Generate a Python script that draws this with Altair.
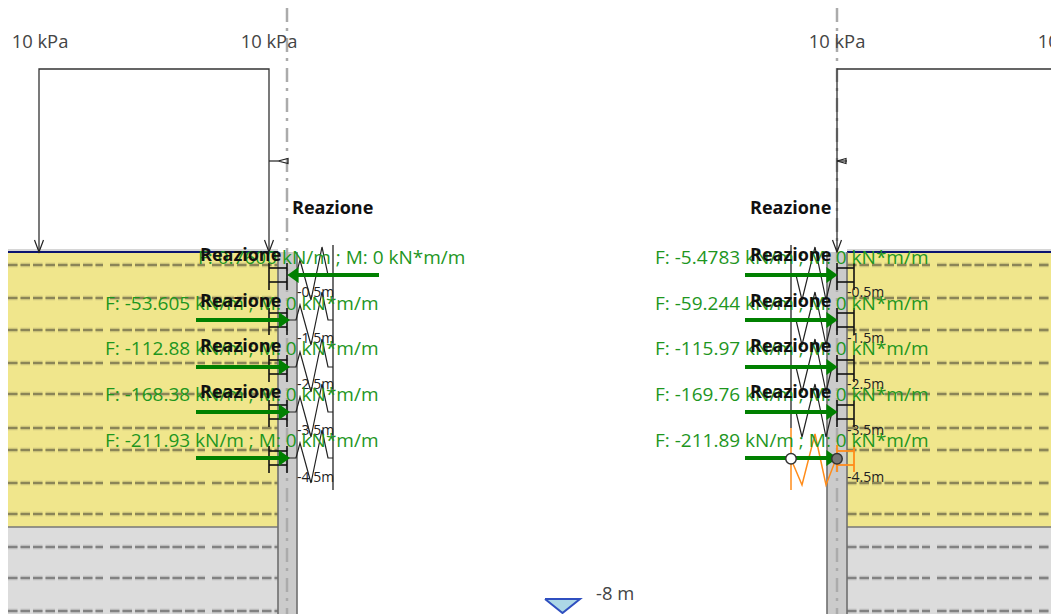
import altair as alt
import pandas as pd

# ---- picture geometry, in reference pixels ----
GROUND_Y = 252
CLAY_Y = 527
BOTTOM_Y = 614
LEFT_EDGE = 8
RIGHT_EDGE = 1051
WALL_L = [278, 297]
WALL_R = [827, 847]
AXIS_L = 287
AXIS_R = 837

DASH_YELLOW = [265, 298, 330, 363, 394, 428, 450, 483, 514]
DASH_GRAY = [547, 578, 611]
DASH_SEGMENTS_L = [(8, 103), (110, 205), (212, 278)]
DASH_SEGMENTS_R = [(847, 930), (937, 1032), (1039, 1051)]

ARROW_Y_L = [275, 320, 367, 412, 458]
ARROW_Y_R = [275, 320, 367, 412, 458]
FORCES_L = ["F: 0.7600", "F: -53.605", "F: -112.88", "F: -168.38", "F: -211.93"]
FORCES_R = ["F: -5.4783", "F: -59.244", "F: -115.97", "F: -169.76", "F: -211.89"]
LABEL_Y = [258, 304, 349, 395, 441]
LABEL_X_L = [198, 105, 105, 105, 105]
LABEL_X_R = [655, 655, 655, 655, 655]
SUFFIX = " kN/m ; M: 0 kN*m/m"
REACT_Y = [208.5, 255.5, 301.5, 346.5, 392.5]
REACT_X_L = [292, 200, 200, 200, 200]
REACT_X_R = [750, 750, 750, 750, 750]
DEPTH = ["-0.5m", "-1.5m", "-2.5m", "-3.5m", "-4.5m"]
DEPTH_Y = [293, 339, 385, 431, 478]

YELLOW = "#F0E68C"
GRAY = "#DCDCDC"
WALLC = "#CBCBCB"
GREEN = "#008000"
GREEN_T = "#1E961E"
ORANGE = "#FF8C1A"
HEAD_RIGHT = "M -0.7 -1 L 0.7 0 L -0.7 1 Z"
HEAD_LEFT = "M 0.7 -1 L -0.7 0 L 0.7 1 Z"

X = lambda f="x": alt.X(f + ":Q", axis=None, scale=alt.Scale(domain=[LEFT_EDGE, RIGHT_EDGE], nice=False, zero=False))
Y = lambda f="y": alt.Y(f + ":Q", axis=None, scale=alt.Scale(domain=[BOTTOM_Y, LEFT_EDGE], nice=False, zero=False))


def rects(rows, **kw):
    df = pd.DataFrame(rows, columns=["x", "x2", "y", "y2"])
    return alt.Chart(df).mark_rect(**kw).encode(X(), x2="x2:Q", y=Y(), y2="y2:Q")


def segs(rows, **kw):
    df = pd.DataFrame(rows, columns=["x", "x2", "y", "y2"])
    return alt.Chart(df).mark_rule(**kw).encode(X(), x2="x2:Q", y=Y(), y2="y2:Q")


def poly(paths, **kw):
    rows = []
    for g, p in enumerate(paths):
        for i, (a, b) in enumerate(p):
            rows.append({"g": g, "i": i, "x": a, "y": b})
    return alt.Chart(pd.DataFrame(rows)).mark_line(interpolate="linear", **kw).encode(
        X(), Y(), detail="g:N", order="i:Q")


def texts(xs, ys, labels, **kw):
    df = pd.DataFrame({"x": xs, "y": ys, "t": labels})
    return alt.Chart(df).mark_text(baseline="middle", **kw).encode(X(), Y(), text="t:N")


def heads(xs, ys, shape, size=256, color=GREEN):
    df = pd.DataFrame({"x": xs, "y": ys})
    return alt.Chart(df).mark_point(shape=shape, size=size, filled=True, opacity=1, color=color, strokeWidth=0).encode(X(), Y())


def tri(points, fill):
    df = pd.DataFrame(points, columns=["x", "y", "y2"])
    return alt.Chart(df).mark_area(color=fill, opacity=1).encode(X(), Y(), y2="y2:Q")


layers = []
# soils
layers.append(rects([(WALL_L[0] - 270, WALL_L[0], GROUND_Y, CLAY_Y), (WALL_R[1], RIGHT_EDGE, GROUND_Y, CLAY_Y)], color=YELLOW))
layers.append(rects([(WALL_L[0] - 270, WALL_L[0], CLAY_Y, BOTTOM_Y), (WALL_R[1], RIGHT_EDGE, CLAY_Y, BOTTOM_Y)], color=GRAY))
# soil dashes
for ys, c in ((DASH_YELLOW, "#6f6b48"), (DASH_GRAY, "#6a6a6a")):
    rows = [(a, b, y, y) for y in ys for a, b in DASH_SEGMENTS_L + DASH_SEGMENTS_R]
    layers.append(segs(rows, color=c, strokeWidth=4.5, strokeDash=[9.5, 3], opacity=0.28))
    layers.append(segs(rows, color=c, strokeWidth=2.2, strokeDash=[9.5, 3], opacity=0.7))
# strata lines
layers.append(segs([(8, 278, CLAY_Y, CLAY_Y), (847, RIGHT_EDGE, CLAY_Y, CLAY_Y)], color="#777777", strokeWidth=1.6))
layers.append(segs([(8, 278, GROUND_Y - 2, GROUND_Y - 2), (847, RIGHT_EDGE, GROUND_Y - 2, GROUND_Y - 2)], color="#C8C8C8", strokeWidth=1.5))
layers.append(segs([(8, 278, GROUND_Y, GROUND_Y), (847, RIGHT_EDGE, GROUND_Y, GROUND_Y)], color="#0B1470", strokeWidth=2))
# walls
layers.append(rects([(WALL_L[0], WALL_L[1], GROUND_Y, BOTTOM_Y), (WALL_R[0], WALL_R[1], GROUND_Y, BOTTOM_Y)], color=WALLC))
layers.append(segs([(x, x, GROUND_Y, BOTTOM_Y) for x in WALL_L + WALL_R], color="#6E6E6E", strokeWidth=1.6))
# centre axes
layers.append(segs([(AXIS_L, AXIS_L, 8, BOTTOM_Y), (AXIS_R, AXIS_R, 8, BOTTOM_Y)], color="#ABABAB", strokeWidth=2.5,
                   strokeDash=[14, 6, 3, 7]))
# load diagram
layers.append(poly([[(39, 252), (39, 69), (269, 69), (269, 252)], [(837, 252), (837, 69), (RIGHT_EDGE, 69)]], color="#333333", strokeWidth=1.3))
layers.append(poly([[(34.5, 240), (39, 252), (43.5, 240)], [(264.5, 240), (269, 252), (273.5, 240)], [(832.5, 240), (837, 252), (841.5, 240)]],
                   color="#222222", strokeWidth=1.2))
layers.append(texts([40, 269, 837, 1066], [42] * 4, ["10 kPa"] * 4, font="Open Sans", fontSize=18.4, color="#444444", align="center"))
# small tick marker at mid-height
layers.append(segs([(269, 278, 161, 161), (837, 847, 161, 161)], color="#222222", strokeWidth=1.2))
layers.append(poly([[(278, 161), (288, 158.5), (288, 163.5), (278, 161)], [(837, 161), (846, 158.5), (846, 163.5), (837, 161)]],
                   color="#222222", strokeWidth=1.2))


# springs
def spring_l(y):
    return [(288, y), (296, y), (300, y - 15), (311, y + 25), (322, y - 28), (328, y), (333, y)]


def spring_r(y):
    return [(791, y), (796, y), (802, y + 25), (815, y - 28), (826, y + 25), (832, y), (837, y)]


layers.append(poly([spring_l(y) for y in ARROW_Y_L], color="#222222", strokeWidth=1.2))
layers.append(poly([spring_r(y) for y in ARROW_Y_R[:4]], color="#222222", strokeWidth=1.2))
layers.append(segs([(333, 333, 245, 490), (791, 791, 245, 428)], color="#222222", strokeWidth=1.3))
layers.append(poly([[(791, 459), (802, 485), (815, 434), (826, 485), (836, 459)]], color=ORANGE, strokeWidth=1.5))
layers.append(segs([(791, 791, 428, 490)], color=ORANGE, strokeWidth=1.5))

# rung brackets
rows = []
for y in ARROW_Y_L:
    rows += [(269, 269, y - 12, y + 15), (287, 287, y - 12, y + 15), (269, 287, y - 7, y - 7), (269, 287, y + 7, y + 7)]
layers.append(segs(rows, color="#111111", strokeWidth=1.6))
rows = []
for y in ARROW_Y_R[:4]:
    rows += [(837, 837, y - 12, y + 15), (854, 854, y - 12, y + 15), (837, 854, y - 7, y - 7), (837, 854, y + 7, y + 7)]
layers.append(segs(rows, color="#111111", strokeWidth=1.6))
y = ARROW_Y_R[4]
layers.append(segs([(837, 837, y - 13, y + 14), (854, 854, y - 13, y + 14), (837, 854, y - 7, y - 7), (837, 854, y + 7, y + 7)],
                   color=ORANGE, strokeWidth=1.8))

# depth labels
layers.append(texts([297] * 5, DEPTH_Y, DEPTH, font="Open Sans", fontSize=14, color="#222222", align="left"))
layers.append(texts([847] * 5, DEPTH_Y, DEPTH, font="Open Sans", fontSize=14, color="#222222", align="left"))

# reaction arrows
rows = [(290, 379, ARROW_Y_L[0], ARROW_Y_L[0])] + [(196, 285, y, y) for y in ARROW_Y_L[1:]] + [(745, 832, y, y) for y in ARROW_Y_R]
layers.append(segs(rows, color=GREEN, strokeWidth=4))
layers.append(heads([293], ARROW_Y_L[:1], HEAD_LEFT))
layers.append(heads([284.4] * 4, ARROW_Y_L[1:], HEAD_RIGHT))
layers.append(heads([832] * 5, ARROW_Y_R, HEAD_RIGHT))

# hinge circles
circ = pd.DataFrame({"x": [791, 837], "y": [458.7, 458.7], "f": ["#FFFFFF", "#777777"]})
layers.append(alt.Chart(circ).mark_point(shape="circle", size=110, filled=True, opacity=1, stroke="#333333", strokeWidth=1.5).encode(
    X(), Y(), fill=alt.Fill("f:N", scale=None)))

# force labels
layers.append(texts(LABEL_X_L, LABEL_Y, [f + SUFFIX for f in FORCES_L], font="Open Sans", fontSize=19, color=GREEN_T, align="left"))
layers.append(texts(LABEL_X_R, LABEL_Y, [f + SUFFIX for f in FORCES_R], font="Open Sans", fontSize=19, color=GREEN_T, align="left"))
layers.append(texts(REACT_X_L, REACT_Y, ["Reazione"] * 5, font="Open Sans", fontSize=18, fontWeight="bold", color="#111111", align="left"))
layers.append(texts(REACT_X_R, REACT_Y, ["Reazione"] * 5, font="Open Sans", fontSize=18, fontWeight="bold", color="#111111", align="left"))

# water table marker
layers.append(tri([(545, 599, 599), (562.5, 613, 599), (580, 599, 599)], "#ADD8E6"))
layers.append(poly([[(545, 599), (562.5, 613), (580, 599), (545, 599)]], color="#2F4FC0", strokeWidth=2))
layers.append(texts([596], [594], ["-8 m"], font="Open Sans", fontSize=18.4, color="#444444", align="left"))

chart = alt.layer(*layers).properties(
    width=RIGHT_EDGE - LEFT_EDGE, height=BOTTOM_Y - LEFT_EDGE,
    padding=0, autosize=alt.AutoSizeParams(type="none"),
    background="white",
).configure_view(stroke=None)

chart.save("out.html", embed_options={"renderer": "svg", "actions": False})
